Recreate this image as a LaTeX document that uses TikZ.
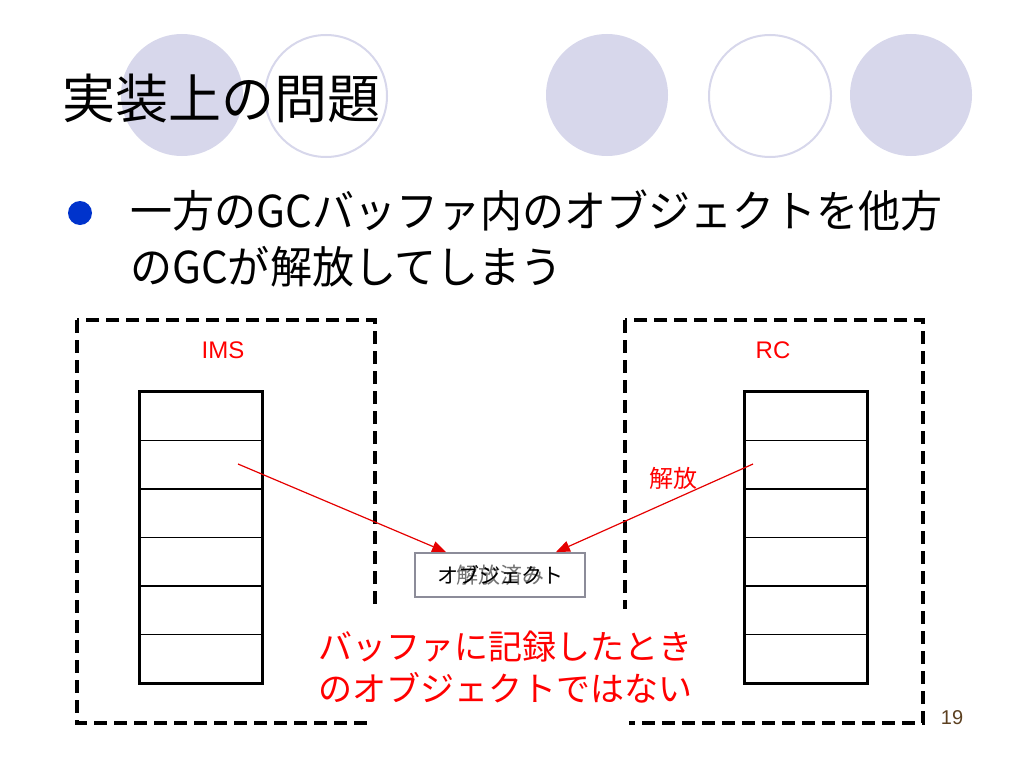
\documentclass[tikz,border=0pt]{standalone}
\usepackage{fontspec}
\setmainfont{Liberation Sans}
\newfontfamily\jp{Noto Sans CJK JP}
\newfontfamily\jpnarrow{Noto Sans CJK JP}[FakeStretch=0.955]
\usepackage{xcolor}
\usetikzlibrary{arrows.meta, positioning, calc}

\definecolor{lavender}{HTML}{D7D7EB}
\definecolor{bulletblue}{HTML}{0033CC}
\definecolor{pagebrown}{HTML}{5C4020}

\begin{document}
\begin{tikzpicture}[
    x=1pt, y=-1pt,
    deco/.style={circle, minimum size=122pt, inner sep=0pt},
    group/.style={draw, line width=3.2pt, dash pattern=on 13pt off 7pt},
    cell/.style={draw, line width=1.4pt, minimum width=122pt, minimum height=48.5pt, inner sep=0pt},
    label/.style={text=red, font=\fontsize{24}{28}\selectfont},
    arrow/.style={-{Triangle[length=14pt, width=11pt]}, red!90!black, line width=1.2pt}
]
    \useasboundingbox (0,0) rectangle (1024,768);

    % Decoration circles
    \node[deco, fill=lavender] (c1) at (182,95) {};
    \node[deco, draw=lavender, line width=2pt] (c2) at (326,96) {};
    \node[deco, fill=lavender] (c3) at (607,95) {};
    \node[deco, draw=lavender, line width=2pt] (c4) at (770,96) {};
    \node[deco, fill=lavender] (c5) at (911,95) {};

    % Title
    \node[anchor=west, inner sep=0pt, font=\jp\fontsize{53}{60}\selectfont] (title) at (62,98) {実装上の問題};

    % Bullet
    \node[circle, fill=bulletblue, minimum size=24pt, inner sep=0pt] (dot) at (80,213) {};
    \node[anchor=north west, inner sep=0pt, align=left, font=\jpnarrow\fontsize{44}{56}\selectfont] (point) at (130,190) {
        一方のGCバッファ内のオブジェクトを他方\\
        のGCが解放してしまう
    };

    % IMS side
    \draw[group] (77,320) rectangle (375,723);
    \node[label] (ims) at (223,350) {IMS};
    \foreach \i in {1,...,6}
        \node[cell] (ims\i) at (201,416.25+48.5*\i-48.5) {};
    \draw[line width=3pt] (ims1.north west) rectangle (ims6.south east);

    % RC side
    \draw[group] (625,320) rectangle (923,723);
    \node[label] (rc) at (773,350) {RC};
    \foreach \i in {1,...,6}
        \node[cell] (rc\i) at (806,416.25+48.5*\i-48.5) {};
    \draw[line width=3pt] (rc1.north west) rectangle (rc6.south east);

    % Object in the middle
    \node[draw=black!35!lavender, line width=1.8pt, minimum width=170pt, minimum height=44pt, inner sep=0pt] (obj) at (500,575) {};
    \node[font=\jp\fontsize{22}{24}\selectfont, text=black!55] (freed) at (obj.center) {解放済み};
    \node[font=\jp\fontsize{21}{24}\selectfont] (objtext) at (obj.center) {オブジェクト};

    % Pointers from the buffers
    \coordinate (imsptr) at (238,464);
    \coordinate (rcptr) at (753,464);
    \draw[arrow] (imsptr) -- ($(obj.north west)+(32,0)$);
    \draw[arrow] (rcptr) -- ($(obj.north east)+(-30,0)$);
    \node[label, font=\jp\fontsize{24}{28}\selectfont] (free) at (673,478) {解放};

    % Note
    \fill[white] (370,609) rectangle (629,728);
    \node[align=center, text=red, inner sep=0pt, font=\jp\fontsize{34}{42}\selectfont] (note) at (505,667) {
        バッファに記録したとき\\
        のオブジェクトではない
    };

    % Page number
    \node[text=pagebrown, font=\fontsize{20}{24}\selectfont] (page) at (952,718) {19};
\end{tikzpicture}
\end{document}
